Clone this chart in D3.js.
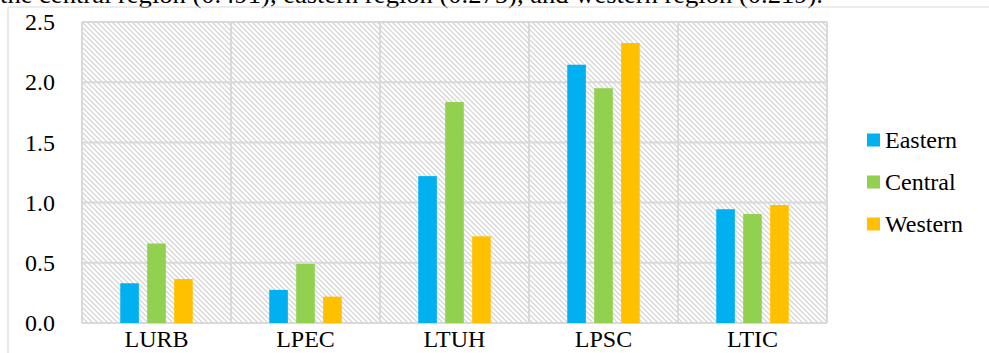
<!DOCTYPE html>
<html>
<head>
<meta charset="utf-8">
<script src="https://cdn.jsdelivr.net/npm/d3@7"></script>
<style>
  html, body { margin: 0; padding: 0; background: #fff; }
  svg { display: block; }
  text { font-family: "Liberation Serif", "Times New Roman", serif; fill: #000; }
</style>
</head>
<body>
<svg id="chart" width="989" height="353"></svg>
<script>
// Indicator categories along the x axis
const categories = ["LURB", "LPEC", "LTUH", "LPSC", "LTIC"];
// Regional series
const seriesNames = ["Eastern", "Central", "Western"];
const eastern = [0.33, 0.275, 1.22, 2.145, 0.945];
const central = [0.66, 0.491, 1.835, 1.95, 0.905];
const western = [0.365, 0.219, 0.72, 2.325, 0.98];
const yTicks = [0.0, 0.5, 1.0, 1.5, 2.0, 2.5];
const colors = ["#00B0F0", "#92D050", "#FFC000"];
const captionText = "the central region (0.491), eastern region (0.275), and western region (0.219).";

const svg = d3.select("#chart");
const margin = { left: 82, top: 22, right: 989 - 827, bottom: 353 - 323 };
const W = 989, H = 353;
const innerW = W - margin.left - margin.right;
const innerH = H - margin.top - margin.bottom;
const serif = "'Liberation Serif', 'Times New Roman', serif";

// Caption line from the surrounding text, partly cut off at the top
svg.append("text")
  .attr("x", 0).attr("y", 3)
  .attr("font-size", 25)
  .attr("textLength", 823)
  .attr("lengthAdjust", "spacingAndGlyphs")
  .text(captionText);

// Outer chart frame (left and top edges)
const frame = svg.append("g").attr("stroke", "#d9d9d9").attr("stroke-width", 1.2).attr("fill", "none");
frame.append("line").attr("x1", 8).attr("x2", 8).attr("y1", 7).attr("y2", H);
frame.append("line").attr("x1", 8).attr("x2", W).attr("y1", 7).attr("y2", 7);

// Diagonal hatch fill for the plot area
const defs = svg.append("defs");
const pat = defs.append("pattern")
  .attr("id", "hatch").attr("patternUnits", "userSpaceOnUse")
  .attr("width", 5).attr("height", 5);
pat.append("path").attr("d", "M-1,-1 L6,6 M-1,4 L1,6 M4,-1 L6,1")
  .attr("stroke", "#d6d6d6").attr("stroke-width", 1.3);

const g = svg.append("g").attr("transform", `translate(${margin.left},${margin.top})`);

const x = d3.scaleBand().domain(categories).range([0, innerW]).padding(0);
const sub = d3.scaleBand().domain(seriesNames).range([0, x.bandwidth()]).paddingInner(0.31).paddingOuter(1.42);
const y = d3.scaleLinear().domain([0, 2.5]).range([innerH, 0]);

g.append("rect").attr("width", innerW).attr("height", innerH).attr("fill", "url(#hatch)");

// Horizontal gridlines
g.append("g").selectAll("line").data(yTicks).join("line")
  .attr("x1", 0).attr("x2", innerW)
  .attr("y1", d => y(d)).attr("y2", d => y(d))
  .attr("stroke", "#d9d9d9").attr("stroke-width", 2);

// Vertical category dividers
const dividers = categories.map(c => x(c)).concat([innerW]);
g.append("g").selectAll("line").data(dividers).join("line")
  .attr("x1", d => d).attr("x2", d => d)
  .attr("y1", 0).attr("y2", innerH)
  .attr("stroke", "#d9d9d9").attr("stroke-width", 2);

// Bars
const seriesData = [eastern, central, western];
const rows = [];
categories.forEach((c, i) => {
  seriesNames.forEach((s, j) => rows.push({ c, s, v: seriesData[j][i], color: colors[j] }));
});
g.append("g").selectAll("rect").data(rows).join("rect")
  .attr("x", d => x(d.c) + sub(d.s))
  .attr("width", sub.bandwidth())
  .attr("y", d => y(d.v))
  .attr("height", d => y(0) - y(d.v))
  .attr("fill", d => d.color);

// Y axis labels
const yAxis = g.append("g")
  .call(d3.axisLeft(y).tickValues(yTicks).tickFormat(d3.format(".1f")).tickSize(0).tickPadding(27));
yAxis.select(".domain").remove();
yAxis.selectAll("text").attr("font-size", 24).attr("font-family", serif).attr("fill", "#000");

// X axis labels
const xAxis = g.append("g").attr("transform", `translate(0,${innerH})`)
  .call(d3.axisBottom(x).tickSize(0).tickPadding(7));
xAxis.select(".domain").remove();
xAxis.selectAll("text").attr("font-size", 24).attr("font-family", serif).attr("fill", "#000");

// Legend
const legend = svg.append("g");
const legendY = [140, 182, 224];
seriesNames.forEach((s, j) => {
  legend.append("rect").attr("x", 867).attr("y", legendY[j] - 6.5).attr("width", 13).attr("height", 13).attr("fill", colors[j]);
  legend.append("text").attr("x", 885).attr("y", legendY[j]).attr("dy", "0.35em")
    .attr("font-size", 24).attr("font-family", serif).text(s);
});
</script>
</body>
</html>
